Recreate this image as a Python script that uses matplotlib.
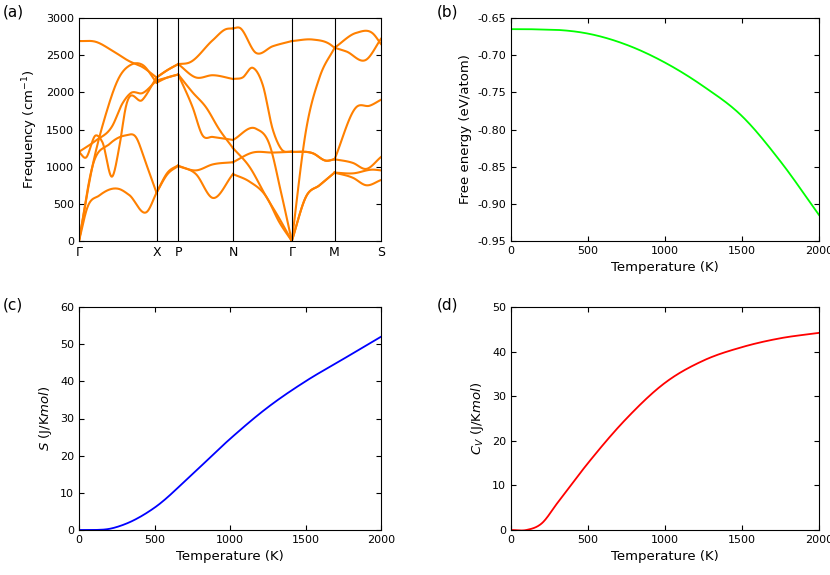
import numpy as np
import matplotlib
matplotlib.use("Agg")
import matplotlib.pyplot as plt

# --- data ---
kpath_labels = ["Γ", "X", "P", "N", "Γ", "M", "S"]
kpath_pos = [0, 232, 297, 461, 637, 765, 904]
seg_GX = [
    [(0,2690),(50,2680),(100,2560),(150,2420),(190,2340),(232,2200)],
    [(0,0),(40,1000),(80,1700),(120,2200),(155,2370),(190,2370),(232,2130)],
    [(0,1200),(50,1350),(100,1550),(130,1850),(155,1990),(190,1990),(232,2160)],
    [(0,1200),(20,1120),(50,1420),(70,1330),(100,870),(120,1250),(140,1800),(190,1900),(232,2200)],
    [(0,0),(40,1000),(90,1300),(140,1420),(170,1400),(200,1050),(232,650)],
    [(0,0),(25,450),(60,610),(120,700),(150,620),(205,400),(232,650)],
]
seg_XP = [
    [(232,650),(265,900),(297,1010)],
    [(232,650),(265,920),(297,1020)],
    [(232,2130),(265,2200),(297,2240)],
    [(232,2160),(265,2200),(297,2240)],
    [(232,2200),(265,2300),(297,2380)],
    [(232,2200),(265,2300),(297,2380)],
]
seg_PN = [
    [(297,2380),(330,2400),(400,2700),(440,2850),(461,2860)],
    [(297,2380),(350,2200),(400,2230),(461,2180)],
    [(297,2240),(340,2000),(380,1800),(420,1500),(461,1250)],
    [(297,2240),(340,1800),(370,1420),(400,1400),(461,1360)],
    [(297,1010),(350,950),(400,1030),(461,1060)],
    [(297,1010),(350,900),(400,580),(461,900)],
]
seg_NG = [
    [(461,2860),(480,2870),(530,2530),(580,2620),(637,2690)],
    [(461,2180),(490,2200),(520,2330),(550,2100),(580,1500),(605,1240),(637,1200)],
    [(461,1360),(530,1510),(570,1300),(605,650),(637,0)],
    [(461,1250),(510,1000),(560,600),(600,300),(637,0)],
    [(461,1060),(520,1190),(580,1190),(637,1200)],
    [(461,900),(510,800),(560,600),(600,250),(637,0)],
]
seg_GM = [
    [(637,2690),(700,2710),(750,2650),(765,2600)],
    [(637,1200),(700,1180),(740,1080),(765,1100)],
    [(637,1200),(700,1180),(740,1080),(765,1100)],
    [(637,0),(680,1500),(720,2200),(765,2600)],
    [(637,0),(680,600),(720,750),(765,920)],
    [(637,0),(680,600),(720,750),(765,920)],
]
seg_MS = [
    [(765,2600),(830,2800),(880,2790),(904,2650)],
    [(765,2600),(800,2550),(860,2440),(904,2720)],
    [(765,1100),(830,1800),(870,1820),(904,1900)],
    [(765,1100),(820,1050),(860,970),(904,1130)],
    [(765,920),(820,910),(880,960),(904,950)],
    [(765,920),(820,850),(860,750),(904,820)],
]
segments = [seg_GX, seg_XP, seg_PN, seg_NG, seg_GM, seg_MS]

T = [0, 100, 200, 300, 500, 750, 1000, 1250, 1500, 1750, 2000]
F = [-0.665, -0.665, -0.6655, -0.666, -0.671, -0.686, -0.710, -0.742, -0.782, -0.843, -0.915]
S = [0, 0, 0.3, 1.5, 6, 15, 24.5, 33, 40, 46, 52]
Cv = [0, 0, 1.5, 6, 15, 25, 33, 38, 41, 43, 44.2]


def hermite(xs, ys, n=30):
    xs = np.asarray(xs, float); ys = np.asarray(ys, float)
    m = np.gradient(ys, xs)
    ox, oy = [], []
    for i in range(len(xs) - 1):
        h = xs[i+1] - xs[i]
        t = np.linspace(0, 1, n)
        h00 = 2*t**3 - 3*t**2 + 1; h10 = t**3 - 2*t**2 + t
        h01 = -2*t**3 + 3*t**2; h11 = t**3 - t**2
        ox.append(xs[i] + t*h)
        oy.append(h00*ys[i] + h10*h*m[i] + h01*ys[i+1] + h11*h*m[i+1])
    return np.concatenate(ox), np.concatenate(oy)


fig = plt.figure(figsize=(8.3, 5.75), dpi=100)
W, H = 830, 575
def ax_at(l, r, t, b):
    return fig.add_axes([l/W, 1-b/H, (r-l)/W, (b-t)/H])

fs = 8
orange = "#ff8000"

ax = ax_at(79, 381, 18, 241)
for seg in segments:
    for curve in seg:
        k, f = zip(*curve)
        x, y = hermite(k, f)
        ax.plot(x, y, color=orange, lw=1.5)
for p in kpath_pos[1:-1]:
    ax.axvline(p, color="black", lw=0.8)
ax.set_xlim(0, 904); ax.set_ylim(0, 3000)
ax.set_xticks(kpath_pos); ax.set_xticklabels(kpath_labels)
ax.set_yticks(np.arange(0, 3001, 500))
ax.set_ylabel("Frequency (cm$^{-1}$)", fontsize=fs+1.5)
ax.tick_params(axis="x", length=0, labelsize=fs+1)
ax.tick_params(axis="y", direction="in", right=True, labelsize=fs)

Tf, Ff = hermite(T, F)
Tf, Sf = hermite(T, S)
Tf, Cf = hermite(T, Cv)

axb = ax_at(511, 819, 18, 241)
axb.plot(Tf, Ff, color="#00ff00", lw=1.3)
axb.set_xlim(0, 2000); axb.set_ylim(-0.95, -0.65)
axb.set_yticks(np.arange(-0.95, -0.649, 0.05))
axb.set_yticklabels([f"{v:.2f}" for v in np.arange(-0.95, -0.649, 0.05)])
axb.set_ylabel("Free energy (eV/atom)", fontsize=fs+1.5)

axc = ax_at(79, 381, 307, 530)
axc.plot(Tf, Sf, color="#0000ff", lw=1.3)
axc.set_xlim(0, 2000); axc.set_ylim(0, 60)
axc.set_ylabel("$S$ (J/K$mol$)", fontsize=fs+1.5)

axd = ax_at(511, 819, 307, 530)
axd.plot(Tf, Cf, color="#ff0000", lw=1.3)
axd.set_xlim(0, 2000); axd.set_ylim(0, 50)
axd.set_ylabel("$C_V$ (J/K$mol$)", fontsize=fs+1.5)

for a in (axb, axc, axd):
    a.set_xticks([0, 500, 1000, 1500, 2000])
    a.set_xlabel("Temperature (K)", fontsize=fs+1.5)
    a.tick_params(direction="in", top=True, right=True, labelsize=fs)

for lab, x, y in [("(a)", 3, 12), ("(b)", 437, 12), ("(c)", 3, 305), ("(d)", 437, 305)]:
    fig.text(x/W, 1-y/H, lab, fontsize=fs+3, va="center")

fig.savefig("out.png", dpi=100)
